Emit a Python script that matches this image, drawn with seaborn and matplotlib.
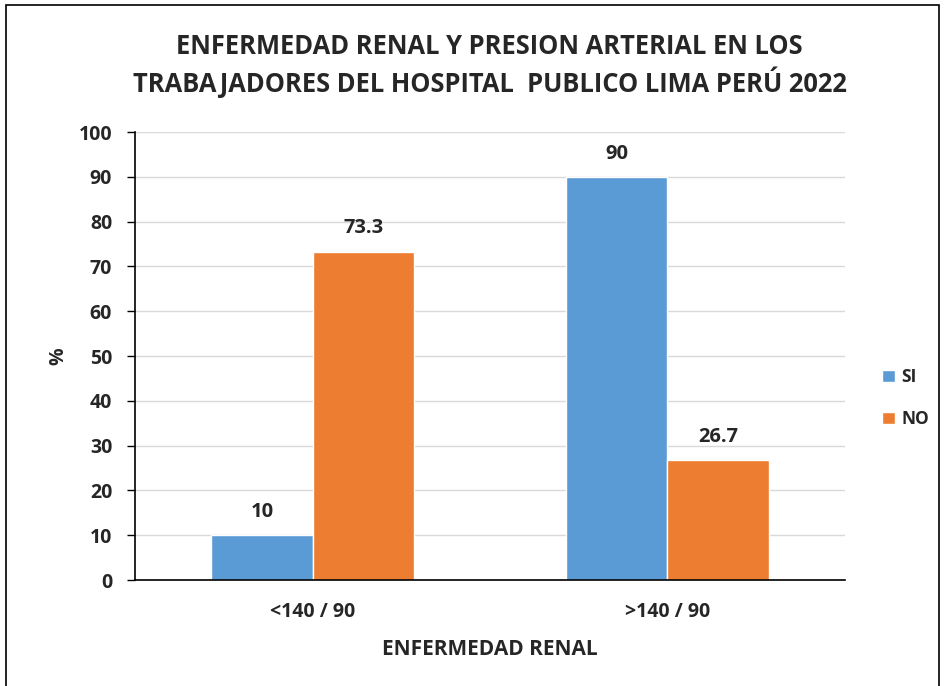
import pandas as pd
import matplotlib
matplotlib.use('Agg')
from matplotlib import pyplot as plt
from matplotlib.patches import Rectangle
import seaborn as sns

# Data
categories = ['<140 / 90', '>140 / 90']
si_values = [10, 90]
no_values = [73.3, 26.7]
series = ['SI', 'NO']

df = pd.DataFrame({
    'Presion': categories * 2,
    'Grupo': ['SI'] * 2 + ['NO'] * 2,
    'Valor': si_values + no_values,
})

sns.set_style('white')
plt.rcParams['font.family'] = ['Open Sans', 'DejaVu Sans']
plt.rcParams['font.weight'] = 'bold'

fig = plt.figure(figsize=(9.45, 6.86), dpi=100)
ax = fig.add_axes([0.143, 0.1545, 0.751, 0.653])

sns.barplot(x='Presion', y='Valor', hue='Grupo', data=df, order=categories,
            hue_order=series, palette=['#5B9BD5', '#ED7D31'],
            width=0.57, gap=0, saturation=1, ax=ax, legend=True)

# Value labels above the bars
for c in ax.containers:
    labels = [f'{v:g}' for v in c.datavalues]
    ax.bar_label(c, labels=labels, padding=9.5, fontsize=14.5, fontweight='bold')

ax.set_xlim(-0.5, 1.5)
ax.set_ylim(0, 100)
ax.set_yticks(range(0, 101, 10))
ax.yaxis.grid(True, color='#D9D9D9', linewidth=1)
ax.set_axisbelow(True)
for s in ['top', 'right']:
    ax.spines[s].set_visible(False)
ax.spines['left'].set_color('black')
ax.spines['bottom'].set_color('black')
ax.spines['left'].set_linewidth(1.2)
ax.spines['bottom'].set_linewidth(1.2)
ax.tick_params(axis='y', left=True, length=6, width=1, color='black', labelsize=14, pad=10.5)
ax.tick_params(axis='x', bottom=False, length=0, labelsize=14, pad=16)
for t in ax.get_xticklabels() + ax.get_yticklabels():
    t.set_fontweight('bold')

ax.set_xlabel('ENFERMEDAD RENAL', fontsize=15, fontweight='bold', labelpad=12)
ax.set_ylabel('%', fontsize=14, fontweight='bold', labelpad=7)

fig.suptitle('ENFERMEDAD RENAL Y PRESION ARTERIAL EN LOS\nTRABAJADORES DEL HOSPITAL  PUBLICO LIMA PERÚ 2022',
             x=0.518, y=0.9045, va='center', fontsize=18.4, fontweight='bold', linespacing=1.29)

leg = ax.legend(loc='center left', bbox_to_anchor=(1.031, 0.406), frameon=False,
                fontsize=12.5, handlelength=0.7, handleheight=0.7, handletextpad=0.4,
                labelspacing=1.37)
for t in leg.get_texts():
    t.set_fontweight('bold')

# Border around the whole chart
fig.patches.append(Rectangle((0.006, -0.01), 0.988, 1.003, transform=fig.transFigure,
                             fill=False, edgecolor='black', linewidth=1.2))

plt.savefig('out.png', dpi=100)
